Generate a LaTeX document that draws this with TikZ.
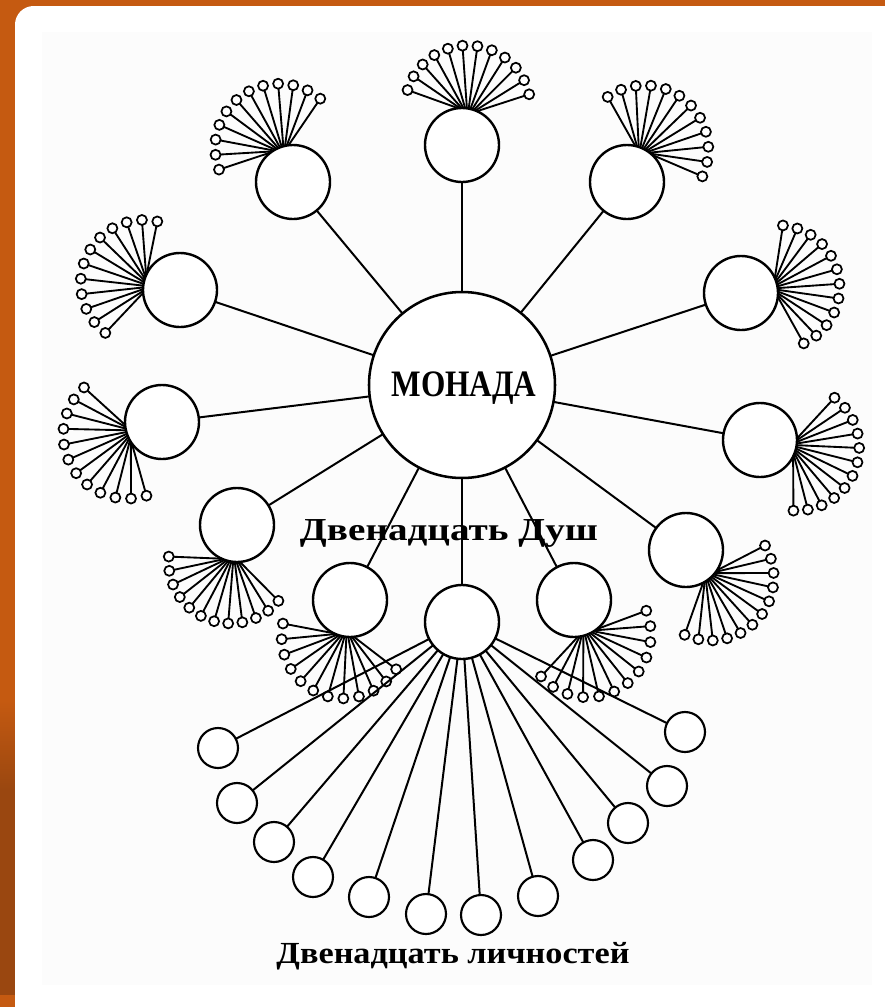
\documentclass[tikz,border=0pt]{standalone}
\usepackage{fontspec}
\setmainfont{Liberation Serif}
\usetikzlibrary{calc}
\definecolor{bgorange}{HTML}{C55A11}
\definecolor{bgbrown}{HTML}{9A4710}
\definecolor{panel}{HTML}{FCFCFC}
\begin{document}
\begin{tikzpicture}[x=0.75pt,y=0.75pt,
  every node/.style={inner sep=0pt,outer sep=0pt},
  monadc/.style={circle,draw,line width=1.9pt,minimum size=139.5pt,fill=white},
  soul/.style={circle,draw,line width=1.8pt,minimum size=55.5pt,fill=white},
  person/.style={circle,draw,line width=1.6pt,minimum size=30pt,fill=white},
  leaf/.style={circle,draw,line width=1.3pt,minimum size=7.5pt,fill=white},
  link/.style={line width=1.5pt},
  fanline/.style={line width=1.4pt},
  lbl/.style={anchor=base}]
\useasboundingbox (0,0) rectangle (885,-1007);
% background
\fill[bgorange] (0,0) rectangle (885,-1007);
\shade[top color=bgorange,bottom color=bgbrown] (0,-700) rectangle (15,-790);
\fill[bgbrown] (0,-789) rectangle (15,-995);
\fill[white,rounded corners=14] (15,-6) rectangle (915,-1025);
\fill[panel] (42,-32) rectangle (872,-985);

% monad and souls
\node[monadc] (m) at (462,-385) {};
\foreach \n/\x/\y in {s1/462/145,s2/293/182,s3/627/182,s4/180/290,s5/741/293,s6/162/422,
  s7/760/440,s8/237/525,s9/686/550,s10/350/600,s11/462/622,s12/574/600}
  \node[soul] (\n) at (\x,-\y) {};
\foreach \i in {1,...,12} \draw[link] (m) -- (s\i);

% fans of twelve
\foreach \n/\h/\a/\s/\l in {s1/81/88/150/63,s2/112/125/150/64,s3/62/50/150/64,s4/169/155/155/63,
  s5/9/10/150/62,s6/200/210/155/64,s7/-12/-20/145/63,s8/-100/-112/145/62,s9/-48/-42/145/63,
  s10/-100/-112/160/62,s12/-68/-58/160/63}{
  \coordinate (\n-hub) at ($(\n.center)+(\h:37)$);
  \foreach \k in {0,...,11}{
    \pgfmathsetmacro\fangle{\a-\s/2+\k*\s/11}
    \pgfmathsetmacro\sangle{\h+(\fangle-\a)*0.2}
    \coordinate (\n-h\k) at ($(\n.center)+(\sangle:37)$);
    \node[leaf] (\n-l\k) at ($(\n-hub)+(\fangle:\l)$) {};
    \draw[fanline] (\n-h\k) -- (\n-l\k);
  }
}

% twelve personalities
\foreach \i/\x/\y in {1/218/748,2/237/803,3/274/842,4/313/877,5/369/897,6/426/914,
  7/481/915,8/538/896,9/593/860,10/628/823,11/667/786,12/685/732}{
  \node[person] (p\i) at (\x,-\y) {};
  \draw[link] (s11) -- (p\i);
}

% labels
\node[lbl] (mt) at (464,-396) {\resizebox{108.75pt}{\height}{\fontsize{28}{30}\selectfont\bfseries МОНАДА}};
\node[lbl] (st) at (449,-540) {\resizebox{223.5pt}{\height}{\fontsize{24}{26}\selectfont\bfseries Двенадцать Душ}};
\node[lbl] (pt) at (453,-963) {\resizebox{264.75pt}{\height}{\fontsize{23}{25}\selectfont\bfseries Двенадцать личностей}};
\end{tikzpicture}
\end{document}
